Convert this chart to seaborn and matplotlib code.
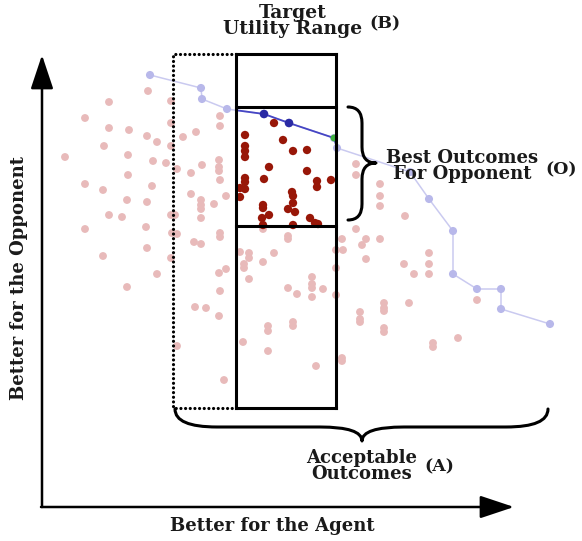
import matplotlib
matplotlib.use("Agg")
import matplotlib.pyplot as plt
import pandas as pd
import seaborn as sns
from matplotlib.patches import PathPatch, Rectangle
from matplotlib.path import Path

# outcome positions (x: agent side, y: opponent side, y grows downward)
other_x = [148, 109, 85, 109, 129, 147, 157, 104, 65, 128, 153, 166, 128, 85, 103, 152, 127, 147,
           109, 122, 85, 146, 147, 103, 157, 127,
           171, 171, 171, 177, 171, 172, 171, 177,
           220, 220, 196, 183, 219, 219, 219, 202, 191, 220, 191, 226, 201, 201, 201, 214, 201, 175,
           220, 220, 177, 194, 201, 219, 226, 220, 195, 206, 219, 224,
           263, 288, 288, 240, 249, 249, 274, 244, 244, 263, 249, 312, 312, 312, 323, 288, 297, 312,
           268, 268, 293, 293, 243, 268, 316, 336, 336, 336,
           342, 356, 366, 380, 362, 343, 366, 360, 360, 360, 384, 384, 384, 384, 384, 409, 404, 414,
           429, 429, 429, 477, 458, 433, 433, 342, 342,
           356, 356, 380, 380, 380, 405]
other_y = [91, 102, 118, 128, 130, 136, 142, 146, 157, 155, 161, 163, 175, 184, 190, 186, 200, 202,
           215, 217, 229, 227, 248, 256, 274, 287,
           101, 123, 146, 169, 215, 233, 258, 346,
           116, 126, 132, 137, 160, 167, 171, 165, 173, 180, 194, 196, 200, 205, 209, 204, 218, 215,
           233, 237, 234, 242, 244, 273, 269, 291, 307, 308, 316, 380,
           229, 236, 239, 252, 253, 258, 253, 264, 268, 262, 279, 277, 284, 288, 289, 288, 294, 297,
           326, 331, 322, 326, 342, 351, 366, 250, 268, 295,
           239, 229, 239, 239, 245, 250, 259, 312, 319, 322, 303, 308, 311, 328, 332, 303, 264, 274,
           253, 264, 274, 300, 338, 343, 347, 358, 361,
           164, 175, 184, 196, 206, 216]

best_x = [274, 245, 283, 245, 245, 245, 293, 307, 269, 307, 245, 245, 264, 317, 317, 331, 240,
          245, 240, 292, 293, 293, 263, 263, 288, 295, 269, 262, 310, 315, 318, 263, 293]
best_y = [123, 135, 140, 146, 151, 157, 151, 150, 167, 171, 178, 182, 179, 181, 187, 180, 188,
          189, 197, 192, 196, 203, 205, 208, 209, 212, 215, 218, 218, 223, 224, 225, 225]

pareto_x = [150, 201, 202, 227, 264, 289, 334, 337, 410, 429, 453, 453, 477, 501, 501, 550]
pareto_y = [75, 88, 99, 109, 114, 123, 138, 148, 172, 199, 231, 274, 289, 289, 309, 324]

# target utility range (B) and acceptable region (A)
box_left, box_right = 236, 336
box_top, best_low, best_high, box_bottom = 54, 107, 226, 408
accept_left = 173

others = pd.DataFrame({"x": other_x, "y": other_y})
best = pd.DataFrame({"x": best_x, "y": best_y})
pareto = pd.DataFrame({"x": pareto_x, "y": pareto_y})

sns.set_style("white")
plt.rcParams["font.family"] = ["DejaVu Serif"]

fig = plt.figure(figsize=(5.82, 5.41), dpi=100)
ax = fig.add_axes([0, 0, 1, 1])
ax.set_xlim(0, 582)
ax.set_ylim(541, 0)
ax.axis("off")

sns.scatterplot(data=others, x="x", y="y", color="#e8baba", s=32, edgecolor="none", ax=ax, zorder=2)

sns.lineplot(data=pareto, x="x", y="y", sort=False, estimator=None, color="#cacaf0", lw=1.1,
             ax=ax, zorder=3)
sns.scatterplot(data=pareto, x="x", y="y", color="#b8b8ea", s=34, edgecolor="none", ax=ax, zorder=3)

# Pareto part inside the best-outcomes cell is drawn dark
clip = Rectangle((box_left, best_low), box_right - box_left, best_high - best_low,
                 transform=ax.transData, fill=False, visible=False)
ax.add_patch(clip)
dark_line = ax.plot(pareto_x, pareto_y, color="#4646c4", lw=1.3, zorder=4)[0]
dark_line.set_clip_path(clip)
inside = pareto[(pareto.x > box_left) & (pareto.x < box_right - 4)]
sns.scatterplot(data=inside, x="x", y="y", color="#2a2aa4", s=38, edgecolor="none", ax=ax, zorder=5)
ax.scatter([pareto_x[6]], [pareto_y[6]], color="#40b040", s=24, edgecolor="none", zorder=5)

sns.scatterplot(data=best, x="x", y="y", color="#981708", s=36, edgecolor="none", ax=ax, zorder=5)

# target range box
for yy in (box_top, best_low, best_high, box_bottom):
    ax.plot([box_left, box_right], [yy, yy], color="black", lw=2.2, zorder=6, solid_capstyle="projecting")
for xx in (box_left, box_right):
    ax.plot([xx, xx], [box_top, box_bottom], color="black", lw=2.2, zorder=6, solid_capstyle="projecting")

# acceptable region (dotted)
ax.plot([box_left, accept_left, accept_left, box_left],
        [box_top, box_top, box_bottom, box_bottom],
        color="black", lw=2.3, ls=(0, (0.01, 1.45)), dash_capstyle="round", zorder=6)

# axes arrows
arrow = dict(arrowstyle="-|>,head_length=1.5,head_width=0.5", lw=1.8, color="black",
             mutation_scale=14, shrinkA=0, shrinkB=0)
ax.annotate("", xy=(42, 55), xytext=(42, 507), arrowprops=arrow)
ax.annotate("", xy=(514, 507), xytext=(41, 507), arrowprops=arrow)


def brace(u0, u1, um, v0, v1, v2, r, vertical=False):
    pts = [(u0, v0), (u0, v1), (u0 + r, v1), (um - r, v1), (um, v1), (um, v2),
           (um, v1), (um + r, v1), (u1 - r, v1), (u1, v1), (u1, v0)]
    codes = [Path.MOVETO, Path.CURVE3, Path.CURVE3, Path.LINETO, Path.CURVE3, Path.CURVE3,
             Path.CURVE3, Path.CURVE3, Path.LINETO, Path.CURVE3, Path.CURVE3]
    if vertical:
        pts = [(v, u) for u, v in pts]
    ax.add_patch(PathPatch(Path(pts, codes), fill=False, lw=2.2, color="black",
                           capstyle="round", joinstyle="round", zorder=7))


brace(175, 548, 362, 409, 427, 441, 42)
brace(107, 220, 163, 348, 362, 376, 16, vertical=True)

txt = dict(fontweight="bold", color="#1a1a1a", ha="center", va="center", linespacing=0.85)
ax.text(293, 21, "Target\nUtility Range", fontsize=13.5, **txt)
ax.text(385, 24, "(B)", fontsize=12.5, **txt)
ax.text(462, 166, "Best Outcomes\nFor Opponent", fontsize=13, **txt)
ax.text(561, 170, "(O)", fontsize=12.5, **txt)
ax.text(362, 466, "Acceptable\nOutcomes", fontsize=13, **txt)
ax.text(439, 467, "(A)", fontsize=12.5, **txt)
ax.text(272, 526, "Better for the Agent", fontsize=13, **txt)
ax.text(19, 278, "Better for the Opponent", fontsize=13, rotation=90, **txt)

fig.savefig("out.png", dpi=100)
